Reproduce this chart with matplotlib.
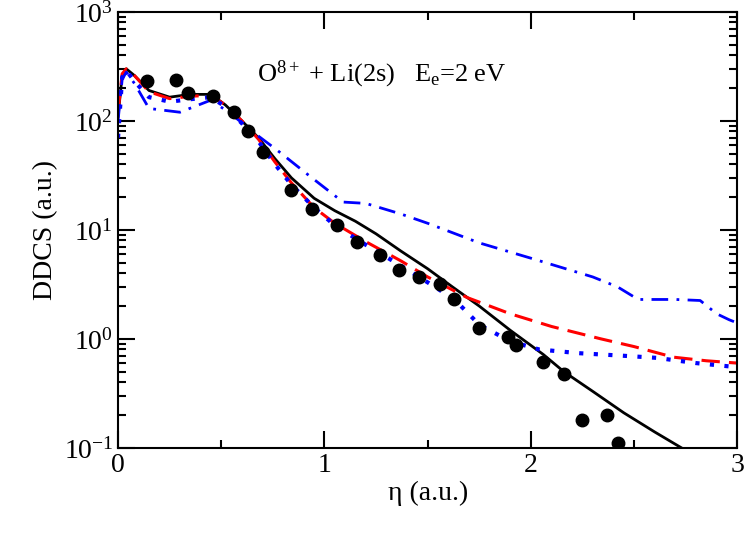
import numpy as np
import matplotlib.pyplot as plt
from matplotlib.ticker import LogLocator, MultipleLocator

# experimental points
exp_x = [0.14, 0.28, 0.34, 0.46, 0.56, 0.63, 0.70, 0.84, 0.94, 1.06, 1.16, 1.27, 1.36,
         1.46, 1.56, 1.63, 1.75, 1.89, 1.93, 2.06, 2.16, 2.25, 2.37, 2.42]
exp_y = [230, 235, 180, 170, 120, 80, 52, 23, 15.5, 11, 7.8, 5.9, 4.3,
         3.7, 3.2, 2.3, 1.25, 1.05, 0.88, 0.62, 0.48, 0.18, 0.20, 0.11]

# black solid
solid_x = [0.0, 0.02, 0.04, 0.08, 0.15, 0.25, 0.35, 0.45, 0.52, 0.6, 0.68, 0.76, 0.84, 0.95,
           1.05, 1.15, 1.25, 1.37, 1.5, 1.62, 1.75, 1.9, 2.06, 2.16, 2.3, 2.45, 2.6, 2.73]
solid_y = [110, 260, 300, 260, 190, 165, 175, 175, 140, 100, 70, 45, 30, 19.5,
           15, 12, 9.2, 6.4, 4.4, 3.0, 2.0, 1.2, 0.72, 0.5, 0.33, 0.21, 0.14, 0.1]

# red dashed
dash_x = [0.0, 0.02, 0.04, 0.08, 0.15, 0.25, 0.35, 0.45, 0.52, 0.6, 0.68, 0.76, 0.84, 0.95,
          1.05, 1.2, 1.37, 1.5, 1.69, 1.9, 2.1, 2.34, 2.5, 2.69, 2.85, 3.0]
dash_y = [120, 270, 300, 260, 185, 160, 168, 172, 140, 100, 68, 42, 27, 16,
          11.5, 7.8, 5.2, 3.7, 2.4, 1.7, 1.3, 1.0, 0.85, 0.68, 0.63, 0.6]

# blue dotted
dot_x = [0.0, 0.02, 0.04, 0.08, 0.15, 0.25, 0.35, 0.45, 0.52, 0.6, 0.68, 0.76, 0.84, 0.95,
         1.05, 1.2, 1.37, 1.5, 1.63, 1.75, 1.9, 2.04, 2.23, 2.45, 2.61, 2.8, 3.0]
dot_y = [70, 250, 290, 230, 165, 150, 158, 165, 135, 95, 65, 40, 26, 16,
         11, 7.3, 4.7, 3.3, 2.3, 1.35, 0.95, 0.8, 0.74, 0.7, 0.67, 0.6, 0.55]

# blue dash-dot
dd_x = [0.0, 0.02, 0.04, 0.08, 0.15, 0.3, 0.45, 0.55, 0.65, 0.77, 0.93, 1.09, 1.2, 1.37,
        1.5, 1.75, 2.0, 2.3, 2.42, 2.52, 2.7, 2.82, 2.9, 2.96, 3.0]
dd_y = [100, 240, 280, 220, 130, 120, 155, 115, 80, 54, 31, 18, 17.5, 14,
        11.5, 7.6, 5.5, 3.7, 3.0, 2.3, 2.3, 2.25, 1.7, 1.5, 1.4]

plt.rcParams['font.family'] = 'Liberation Serif'
plt.rcParams['mathtext.fontset'] = 'custom'
plt.rcParams['mathtext.rm'] = 'Liberation Serif'
plt.rcParams['mathtext.it'] = 'Liberation Serif:italic'

fig = plt.figure(figsize=(7.47, 5.39), dpi=100)
ax = fig.add_axes([0.158, 0.169, 0.829, 0.809])

ax.plot(solid_x, solid_y, color='black', lw=2)
ax.plot(dash_x, dash_y, color='red', lw=2.2, dashes=(6, 3))
ax.plot(dot_x, dot_y, color='blue', lw=3, dashes=(1, 2.5))
ax.plot(dd_x, dd_y, color='blue', lw=2, dashes=(6, 3, 1, 3))
ax.plot(exp_x, exp_y, 'o', color='black', ms=9)

ax.set_yscale('log')
ax.set_xlim(0, 3)
ax.set_ylim(0.1, 1000)
ax.xaxis.set_major_locator(MultipleLocator(1))
ax.xaxis.set_minor_locator(MultipleLocator(0.5))
ax.yaxis.set_major_locator(LogLocator(base=10, numticks=10))
ax.yaxis.set_minor_locator(LogLocator(base=10, subs=np.arange(2, 10), numticks=20))
ax.tick_params(which='both', direction='in', top=True, right=True, labelsize=20, width=1.5)
ax.tick_params(which='major', length=12)
ax.tick_params(which='minor', length=6)
for s in ax.spines.values():
    s.set_linewidth(1.5)

ax.set_xlabel('\u03b7 (a.u.)', fontsize=20, labelpad=2)
ax.set_ylabel('DDCS (a.u.)', fontsize=20)
ax.text(0.225, 0.84, r'O$^{8+}$ + Li(2s)   E$_{\rm e}$=2 eV', transform=ax.transAxes, fontsize=19)

fig.savefig('out.png', dpi=100)
